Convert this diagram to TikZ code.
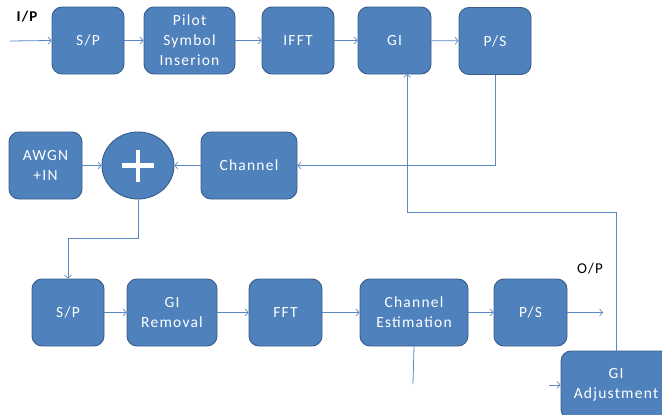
\documentclass[tikz,border=0pt]{standalone}
\usepackage{fontspec}
\setmainfont{Carlito}[LetterSpace=8]
\usetikzlibrary{arrows.meta,shapes.geometric}
\definecolor{boxfill}{HTML}{4F81BD}
\definecolor{boxedge}{HTML}{385D8A}
\definecolor{wire}{HTML}{5B88C2}
\tikzset{
  block/.style={draw=boxedge, fill=boxfill, line width=0.9pt, rounded corners=10pt,
    text=white, align=center, font=\fontsize{15.5}{20}\selectfont,
    minimum height=67pt, inner sep=0pt},
  sumnode/.style={ellipse, draw=boxedge, fill=boxfill, line width=0.9pt,
    minimum width=72pt, minimum height=67pt, inner sep=0pt},
  link/.style={draw=wire, line width=0.8pt},
  arr/.style={link, -{Straight Barb[length=3pt,width=7pt,line width=0.7pt]}},
  tag/.style={font=\fontsize{15}{17}\selectfont, text=black, inner sep=0pt}
}
\begin{document}
\begin{tikzpicture}[x=1pt,y=-1pt]
\useasboundingbox (0,0) rectangle (662,415);
\clip (0,0) rectangle (662,415);

% transmitter chain
\node[block, minimum width=72pt] (sp1)   at (88,40.5)    {S/P};
\node[block, minimum width=91pt] (pilot) at (189.5,40.5) {Pilot\\Symbol\\Inserion};
\node[block, minimum width=72pt] (ifft)  at (298,40.5)   {IFFT};
\node[block, minimum width=73pt] (gi)    at (394.5,40.5) {GI};
\node[block, minimum width=72pt] (ps1)   at (495,41)     {P/S};

% channel and noise
\node[block, minimum width=73pt] (awgn) at (45.5,165.5) {AWGN\\+IN};
\node[sumnode] (sum) at (138,165.5) {};
\draw[white, line width=4.5pt] (sum.center) ++(-16,0) -- ++(32,0);
\draw[white, line width=4.5pt] (sum.center) ++(0,-16) -- ++(0,32);
\node[block, minimum width=96pt] (chan) at (249,165.5) {Channel};

% receiver chain
\node[block, minimum width=72pt]  (sp2) at (68,312.5)    {S/P};
\node[block, minimum width=90pt]  (gir) at (172,312.5)   {GI\\Removal};
\node[block, minimum width=73pt]  (fft) at (285.5,312.5) {FFT};
\node[block, minimum width=108pt] (ce)  at (414,312.5)   {Channel\\Estimation};
\node[block, minimum width=73pt]  (ps2) at (530.5,312.5) {P/S};
\node[block, minimum width=110pt, minimum height=68pt] (gia) at (616,385) {GI\\Adjustment};

% labels
\node[tag, font=\fontsize{15}{17}\bfseries] (ip) at (27,17) {I/P};
\node[tag] (op) at (590,269) {O/P};

% free ends
\coordinate (inp) at (10,41);
\coordinate (outp) at (603,312.5);
\coordinate (k1) at (138,238);
\coordinate (k2) at (407,212);
\coordinate (gin) at (407,74);
\coordinate (cedown) at (413,384);
\coordinate (gialeft) at (549,385);

% transmitter links
\draw[arr] (inp) -- (sp1.west);
\draw[arr] (sp1) -- (pilot);
\draw[arr] (pilot) -- (ifft);
\draw[arr] (ifft) -- (gi);
\draw[arr] (gi) -- (ps1);

% through the channel
\draw[arr] (ps1.south) |- (chan.east);
\draw[arr] (chan) -- (sum);
\draw[arr] (awgn) -- (sum);
\draw[arr] (sum.south) -- (k1) -| (sp2.north);

% receiver links
\draw[arr] (sp2) -- (gir);
\draw[arr] (gir) -- (fft);
\draw[arr] (fft) -- (ce);
\draw[arr] (ce) -- (ps2);
\draw[arr] (ps2.east) -- (outp);
\draw[link] (ce.south) -- (cedown);
\draw[arr] (gialeft) -- (gia.west);

% guard interval feedback
\draw[arr] (gia.north) |- (k2) -- (gin);
\end{tikzpicture}
\end{document}
